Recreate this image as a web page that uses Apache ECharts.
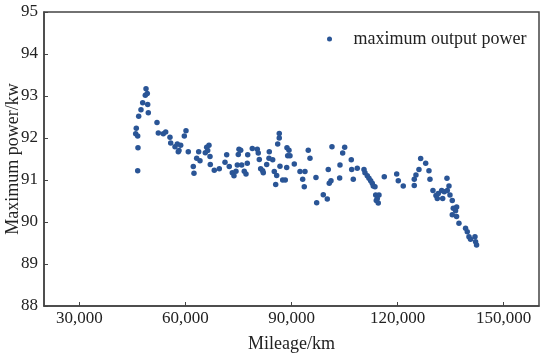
<!DOCTYPE html>
<html>
<head>
<meta charset="utf-8">
<script src="https://cdn.jsdelivr.net/npm/echarts@6/dist/echarts.min.js"></script>
<style>html,body{margin:0;padding:0;background:#fff}#c{width:550px;height:359px}</style>
</head>
<body>
<div id="c"></div>
<script>
const mileage = [46500,46580,45930,46500,46100,46780,47430,47910,49330,48650,49210,48850,49500,
51960,52330,53740,54420,55630,55830,57050,57700,58660,57980,58180,59680,60160,60810,62220,62420,
63180,63750,64120,65620,66010,66660,66950,66300,67030,68160,69580,71190,71670,72400,73250,73730,
74300,74670,75150,75630,74950,75910,76640,77130,77490,77610,78910,80320,80600,80890,81280,81850,
82020,82980,83630,83720,84680,85130,85810,85530,86090,86540,86540,86740,87500,88240,88640,88720,
89290,88920,89570,90790,92400,93160,93810,93610,94740,95230,96920,97120,98990,100120,100400,100680,
101170,101450,103710,103620,104470,105040,106910,107020,107470,108600,110500,110780,111430,111910,
112390,112840,113130,113610,113810,114740,114260,113980,114540,116240,119750,120200,121610,124720,
124720,125200,126050,126530,127950,128880,129160,130010,130860,131230,131510,132470,132760,133210,
133970,134540,134820,135470,134060,136710,135750,136400,135470,136680,137360,139230,139710,140190,
140640,141890,142060,142340];
const power = [91.22,91.77,92.10,92.05,92.23,92.52,92.67,92.84,92.80,93.02,93.06,93.17,92.60,
92.37,92.12,92.10,92.14,92.02,91.88,91.79,91.86,91.83,91.67,91.70,92.05,92.17,91.67,91.32,91.16,
91.52,91.67,91.46,91.65,91.78,91.83,91.56,91.70,91.37,91.23,91.27,91.42,91.60,91.32,91.17,91.10,
91.21,91.36,91.73,91.71,91.61,91.36,91.21,91.14,91.40,91.60,91.75,91.73,91.64,91.49,91.27,91.22,
91.17,91.37,91.52,91.67,91.48,91.20,91.11,90.89,91.86,92.00,92.11,91.33,91.00,91.00,91.30,91.77,
91.71,91.58,91.58,91.38,91.20,91.02,91.20,90.84,91.71,91.52,91.06,90.46,90.65,90.55,91.25,90.92,
90.98,91.79,91.36,91.05,91.64,91.78,91.48,91.25,91.02,91.28,91.25,91.17,91.10,91.04,
90.98,90.92,90.86,90.84,90.64,90.64,90.56,90.51,90.45,91.08,91.14,90.98,90.86,90.87,
91.02,91.12,91.25,91.51,91.40,91.22,91.02,90.75,90.63,90.56,90.68,90.75,90.56,90.72,
91.04,90.86,90.64,90.51,90.75,90.36,90.33,90.27,90.17,90.13,89.97,89.85,89.77,89.65,
89.59,89.65,89.53,89.45];
const xTicks = [30000,60000,90000,120000,150000];
const seriesName = 'maximum output power';

const data = mileage.map((m,i)=>[m,power[i]]);
const font = 'Liberation Serif';
const chart = echarts.init(document.getElementById('c'));
chart.setOption({
  animation:false,
  textStyle:{fontFamily:font},
  grid:{left:44,right:11,top:12,bottom:53,outerBoundsMode:'none',containLabel:false,
    show:true,borderColor:'#444',borderWidth:1.5,backgroundColor:'transparent'},
  legend:{left:322,top:25,icon:'circle',itemWidth:38,itemHeight:5,
    textStyle:{fontFamily:font,fontSize:18,color:'#222'},data:[seriesName]},
  xAxis:{type:'value',min:20000,max:160000,
    name:'Mileage/km',nameLocation:'middle',nameGap:29,nameMoveOverlap:false,
    nameTextStyle:{fontFamily:font,fontSize:18,color:'#222'},
    axisLine:{show:true,lineStyle:{color:'#444',width:1.5}},
    axisTick:{show:true,inside:true,length:4,customValues:xTicks,lineStyle:{color:'#444'}},
    axisLabel:{customValues:xTicks,margin:4,fontFamily:font,fontSize:17,color:'#222',
      formatter:v=>v.toLocaleString('en-US')},
    splitLine:{show:false}},
  yAxis:{type:'value',min:88,max:95,interval:1,
    name:'Maximum power/kw',nameLocation:'middle',nameGap:22,nameRotate:90,nameMoveOverlap:false,
    nameTextStyle:{fontFamily:font,fontSize:18,color:'#222'},
    axisLine:{show:true,lineStyle:{color:'#444',width:1.5}},
    axisTick:{show:true,inside:true,length:4,lineStyle:{color:'#444'}},
    axisLabel:{margin:6,fontFamily:font,fontSize:17,color:'#222'},
    splitLine:{show:false}},
  series:[{type:'scatter',name:seriesName,data:data,symbolSize:5.5,
    itemStyle:{color:'#2a5596',opacity:1}}]
});
</script>
</body>
</html>
